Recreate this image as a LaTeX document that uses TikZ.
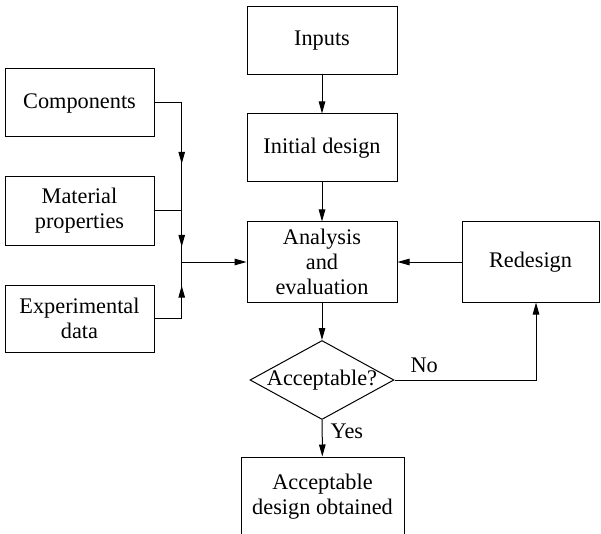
\documentclass[tikz,border=0pt]{standalone}
\usepackage{fontspec}
\setmainfont{Liberation Serif}
\usetikzlibrary{arrows.meta,shapes.geometric,decorations.markings}
\begin{document}
\begin{tikzpicture}[x=1pt,y=-1pt,
  font=\fontsize{22.3}{25}\selectfont,
  line width=1pt,
  box/.style={draw, rectangle, inner sep=0pt, align=center},
  tip/.style={-{Triangle[length=12pt,width=6.5pt]}},
  midtip/.style={postaction={decorate},decoration={markings,mark=at position #1 with {\arrow{Triangle[length=12pt,width=6.5pt]}}}}
]
\useasboundingbox (0,0) rectangle (601,534);
\node[box, minimum width=149pt, minimum height=68pt] (comp) at (79.5,103) {Components};
\node[box, minimum width=149pt, minimum height=68pt] (mat) at (79.5,211) {Material\\properties};
\node[box, minimum width=149pt, minimum height=67pt] (exp) at (79.5,318.5) {Experimental\\data};
\node[box, minimum width=150pt, minimum height=68pt] (inp) at (322,41) {Inputs};
\node[box, minimum width=150pt, minimum height=68pt] (init) at (322,148) {Initial design};
\node[box, minimum width=150pt, minimum height=80pt] (anal) at (322,262) {Analysis\\and\\evaluation};
\node[box, minimum width=137pt, minimum height=80pt] (red) at (530.5,262) {Redesign};
\node[draw, diamond, inner sep=0pt, minimum width=144pt, minimum height=79pt, aspect=1.82] (dia) at (322,380) {};
\node[inner sep=0pt] (dtext) at (dia.center) {Acceptable?};
\node[box, minimum width=163pt, minimum height=80pt] (fin) at (322.5,497) {Acceptable\\design obtained};
\coordinate (J) at (181.7,262);
\draw[midtip=88pt] (comp.east) -| (J);
\draw[midtip=63pt] (mat.east) -| (J);
\draw[midtip=60pt] (exp.east) -| (J);
\draw[tip] (J) -- (anal.west);
\draw[tip] (inp) -- (init);
\draw[tip] (init) -- (anal);
\draw[tip] (anal) -- (dia);
\draw[tip] (dia) -- node[pos=0.3, right, inner sep=8pt] (yes) {Yes} (fin);
\draw[tip] (red) -- (anal);
\draw[tip] (dia.east) -| node[pos=0.105, above, inner sep=7pt] (no) {No} ([xshift=5.5pt]red.south);
\end{tikzpicture}
\end{document}
